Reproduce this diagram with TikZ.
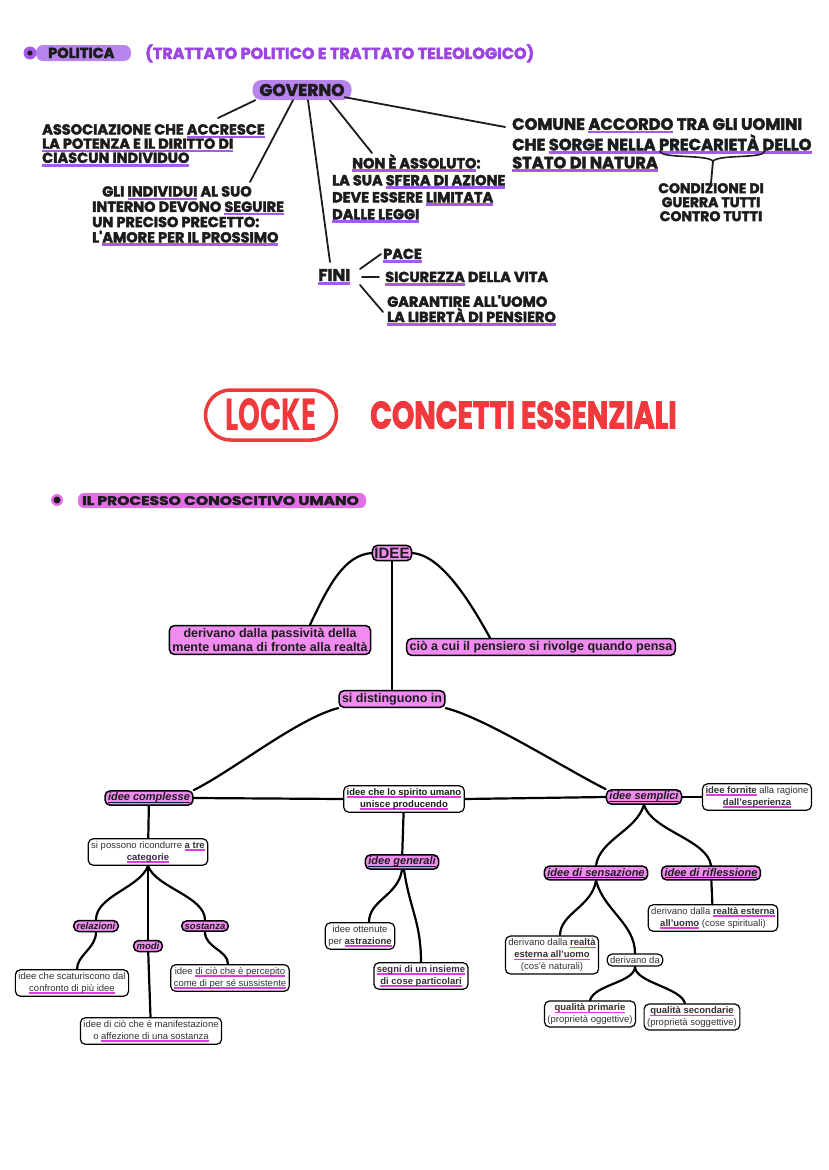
\documentclass[tikz,border=0pt]{standalone}
\usepackage{fontspec}
\setmainfont{Liberation Sans}
\newfontfamily\handfont{Poppins}[BoldFeatures={FakeBold=2.6}]
\newfontfamily\lockefont{Poppins}
\usepackage{graphicx}
\usetikzlibrary{backgrounds}

\definecolor{inkpurple}{HTML}{9B46E1}
\definecolor{ulpurple}{HTML}{A45AEA}
\definecolor{hlpurple}{HTML}{B784EE}
\definecolor{lockered}{HTML}{F0393C}
\definecolor{hlpink}{HTML}{E46EE8}
\definecolor{boxpink}{HTML}{F08CF0}
\definecolor{ulpink}{HTML}{DC3CDC}
\definecolor{ink}{HTML}{1C1C1C}

% highlighter underlines
\newcommand\ulp[1]{\leavevmode\setbox0=\hbox{#1}\rlap{\color{ulpurple}\rule[-3.6pt]{\wd0}{2.6pt}}\box0\relax}
\newcommand\ulk[1]{\leavevmode\setbox0=\hbox{#1}\rlap{\color{ulpink}\rule[-2.6pt]{\wd0}{1.5pt}}\box0\relax}
\newcommand\ulb[1]{\leavevmode\setbox0=\hbox{#1}\rlap{\rule[-1.8pt]{\wd0}{0.7pt}}\box0\relax}

\begin{document}
\begin{tikzpicture}[x=1pt, y=-1pt,
  hand/.style={font=\handfont\bfseries\fontsize{14.5}{14.5}\selectfont, text=ink, inner sep=0pt, align=left},
  handline/.style={line width=1.8pt, ink, line cap=round},
  link/.style={line width=2.2pt, black, line cap=round},
  pinkbox/.style={draw=black, line width=1.5pt, fill=boxpink, rounded corners=5pt, inner xsep=3pt, inner ysep=2.5pt, align=center, text=ink, font=\bfseries\fontsize{12.5}{14.5}\selectfont},
  catbox/.style={pinkbox, font=\bfseries\itshape\fontsize{11}{12}\selectfont, inner ysep=2pt},
  smallcat/.style={catbox, font=\bfseries\itshape\fontsize{9.5}{11}\selectfont},
  whitebox/.style={draw=black, line width=1.2pt, fill=white, rounded corners=5pt, inner xsep=3pt, inner ysep=2.5pt, align=center, text=black!80, font=\fontsize{9.5}{12}\selectfont}
]
\useasboundingbox (0,0) rectangle (828,1170);

% politica
\fill[hlpurple, rounded corners=7pt] (36,45) rectangle (131,61);
\fill[ulpurple] (30,53) circle (6.5pt);
\fill[ink] (30,53) circle (2.6pt);
\node[hand, anchor=base west] (politica) at (48,58) {POLITICA};
\node[hand, anchor=base west, text=inkpurple, font=\handfont\bfseries\fontsize{16}{16}\selectfont] (trattato) at (145,59) {(TRATTATO POLITICO E TRATTATO TELEOLOGICO)};

\node[hand, fill=hlpurple, rounded corners=9pt, minimum width=99pt, minimum height=20pt, font=\handfont\bfseries\fontsize{17}{17}\selectfont] (gov) at (302,90) {GOVERNO};

\node[hand, anchor=north west, font=\handfont\bfseries\fontsize{14.5}{14.2}\selectfont] (assoc) at (42,124) {ASSOCIAZIONE CHE \ulp{ACCRESCE}\\\ulp{LA POTENZA E IL DIRITTO DI}\\\ulp{CIASCUN INDIVIDUO}};
\node[hand, anchor=north west, font=\handfont\bfseries\fontsize{14.5}{15.3}\selectfont] (gli) at (92,186) {\hspace*{10pt}GLI \ulp{INDIVIDUI} AL SUO\\INTERNO DEVONO \ulp{SEGUIRE}\\UN PRECISO PRECETTO:\\L'\ulp{AMORE PER IL PROSSIMO}};
\node[hand, anchor=north west, font=\handfont\bfseries\fontsize{14.5}{17}\selectfont] (non) at (332,154) {\hspace*{20pt}\ulp{NON È ASSOLUTO}:\\LA SUA \ulp{SFERA DI AZIONE}\\DEVE ESSERE \ulp{LIMITATA}\\\ulp{DALLE LEGGI}};
\node[hand, anchor=north west, font=\handfont\bfseries\fontsize{16.3}{18}\selectfont] (comune) at (512,118) {COMUNE \ulp{ACCORDO} TRA GLI UOMINI\\CHE \ulp{SORGE NELLA PRECARIETÀ DELLO}\\\ulp{STATO DI NATURA}};
\node[hand, anchor=north, align=center, font=\handfont\bfseries\fontsize{14}{14}\selectfont] (cond) at (711,183) {CONDIZIONE DI\\GUERRA TUTTI\\CONTRO TUTTI};

\node[hand, anchor=base west, font=\handfont\bfseries\fontsize{17}{17}\selectfont] (fini) at (318,281) {\ulp{FINI}};
\node[hand, anchor=base west] (pace) at (383,259) {\ulp{PACE}};
\node[hand, anchor=base west] (sic) at (385,282) {\ulp{SICUREZZA} DELLA VITA};
\node[hand, anchor=north west, font=\handfont\bfseries\fontsize{14.5}{14}\selectfont] (garant) at (387,295) {GARANTIRE ALL'UOMO\\\ulp{LA LIBERTÀ DI PENSIERO}};

\draw[handline] ([xshift=3pt]gov.south west) -- ([xshift=176pt,yshift=6pt]assoc.north west);
\draw[handline] ([xshift=-9pt]gov.south) -- ([xshift=158pt,yshift=4pt]gli.north west);
\draw[handline] ([xshift=6pt]gov.south) -- ([xshift=12pt,yshift=19pt]fini.base west);
\draw[handline] ([xshift=-22pt]gov.south east) -- ([xshift=40pt,yshift=1pt]non.north west);
\draw[handline] ([xshift=-7pt,yshift=3pt]gov.south east) -- ([xshift=-7pt,yshift=-9pt]comune.north west);

\coordinate (bracetip) at (713,161);
\draw[handline, line width=1.6pt] (660,151) .. controls (661,159) and (705,154) .. (bracetip) .. controls (721,154) and (764,159) .. (765,151);
\draw[handline] (bracetip) -- (cond.north);

\draw[handline] ([xshift=42pt,yshift=12pt]fini.base west) -- ([xshift=-2pt,yshift=5pt]pace.base west);
\draw[handline] ([xshift=44pt,yshift=4pt]fini.base west) -- ([xshift=-6pt,yshift=5pt]sic.base west);
\draw[handline] ([xshift=42pt,yshift=-4pt]fini.base west) -- ([xshift=-4pt,yshift=-17pt]garant.north west);

% titolo
\node[draw=lockered, line width=3.5pt, rounded corners=25pt, minimum width=131pt, minimum height=50pt, text=lockered, inner sep=0pt] (locke) at (271,415) {\scalebox{0.62}[1]{\lockefont\bfseries\fontsize{45}{45}\selectfont LOCKE}};
\node[text=lockered, anchor=west, inner sep=0pt] (concetti) at (370,415) {\scalebox{0.75}[1]{\handfont\bfseries\fontsize{38}{38}\selectfont CONCETTI ESSENZIALI}};

\fill[hlpink, rounded corners=6pt] (78,493) rectangle (366,508);
\fill[hlpink] (57,500) circle (6pt);
\fill[ink] (57,500) circle (3.5pt);
\node[hand, anchor=base west] (processo) at (82,505) {\scalebox{1.24}[1]{\fontsize{12.5}{12.5}\selectfont IL PROCESSO CONOSCITIVO UMANO}};

% mappa delle idee
\node[pinkbox, font=\bfseries\fontsize{15}{16}\selectfont, inner xsep=2pt] (idee) at (392,553) {IDEE};
\node[pinkbox] (deriv) at (270,640) {derivano dalla passività della\\mente umana di fronte alla realtà};
\node[pinkbox] (cio) at (541,647) {ciò a cui il pensiero si rivolge quando pensa};
\node[pinkbox] (sidist) at (392,699) {si distinguono in};

\node[catbox] (compl) at (149,798) {\ulb{idee complesse}};
\node[whitebox, font=\bfseries\fontsize{9.5}{12}\selectfont, text=ink] (spirito) at (404,799) {\ulk{idee che lo spirito umano}\\\ulk{unisce producendo}};
\node[catbox] (sempl) at (644,797) {\ulb{idee semplici}};
\node[whitebox] (fornite) at (757,797) {\textbf{\ulk{idee fornite}} alla ragione\\\textbf{\ulk{dall'esperienza}}};

\node[whitebox] (categ) at (148,852) {si possono ricondurre \textbf{\ulk{a tre}}\\\textbf{\ulk{categorie}}};
\node[smallcat] (relaz) at (96,926) {relazioni};
\node[smallcat] (modi) at (148,946) {modi};
\node[smallcat] (sost) at (205,926) {sostanza};
\node[whitebox] (scatur) at (72,983) {idee che scaturiscono dal\\\ulk{confronto di più idee}};
\node[whitebox] (percep) at (230,978) {idee \ulk{di ciò che è percepito}\\\ulk{come di per sé sussistente}};
\node[whitebox] (manif) at (151,1031) {idee di ciò che è manifestazione\\o \ulk{affezione di una sostanza}};

\node[catbox] (general) at (402,862) {\ulb{idee generali}};
\node[whitebox] (astraz) at (360,936) {idee ottenute\\per \textbf{\ulk{astrazione}}};
\node[whitebox] (segni) at (421,976) {\textbf{\ulk{segni di un insieme}}\\\textbf{\ulk{di cose particolari}}};

\node[catbox] (sensaz) at (596,873) {\ulb{idee di sensazione}};
\node[catbox] (rifless) at (711,873) {\ulb{idee di riflessione}};
\node[whitebox] (rifdesc) at (713,918) {derivano dalla \textbf{\ulk{realtà esterna}}\\\textbf{\ulk{all'uomo}} (cose spirituali)};
\node[whitebox] (sensdesc) at (552,955) {derivano dalla \textbf{\ulk{realtà}}\\\textbf{\ulk{esterna all'uomo}}\\(cos'è naturali)};
\node[whitebox] (derivda) at (635,960) {derivano da};
\node[whitebox] (primarie) at (590,1014) {\textbf{\ulk{qualità primarie}}\\(proprietà oggettive)};
\node[whitebox] (secondarie) at (692,1017) {\textbf{\ulk{qualità secondarie}}\\(proprietà soggettive)};

\begin{scope}[on background layer]
  \draw[link] (idee.west) .. controls +(-28,2) and +(18,-38) .. ([xshift=40pt]deriv.north);
  \draw[link] (idee.east) .. controls +(28,2) and +(-22,-40) .. ([xshift=-51pt]cio.north);
  \draw[link] (idee) -- (sidist);
  \draw[link] (sidist.south west) .. controls +(-40,10) and +(40,-20) .. (compl.north east);
  \draw[link] (sidist.south east) .. controls +(40,10) and +(-40,-20) .. (sempl.north west);
  \draw[link] (compl.east) -- (spirito.west);
  \draw[link] (spirito.east) -- (sempl.west);
  \draw[link] (sempl.east) -- (fornite.west);

  \draw[link] (compl) -- (categ);
  \draw[link] (categ.south) .. controls +(-8,22) and +(0,-24) .. (relaz.north);
  \draw[link] (categ.south) -- (modi.north);
  \draw[link] (categ.south) .. controls +(8,22) and +(0,-24) .. (sost.north);
  \draw[link] (relaz.south) .. controls +(0,16) and +(0,-14) .. ([xshift=5pt]scatur.north);
  \draw[link] (sost.south) .. controls +(0,16) and +(0,-14) .. ([xshift=-2pt]percep.north);
  \draw[link] (modi) -- (manif);

  \draw[link] (spirito) -- (general);
  \draw[link] (general.south) .. controls +(-4,26) and +(0,-22) .. ([xshift=9pt]astraz.north);
  \draw[link] ([xshift=2pt]general.south) .. controls +(6,40) and +(0,-40) .. (segni.north);

  \draw[link] (sempl.south) .. controls +(-8,26) and +(4,-26) .. (sensaz.north);
  \draw[link] (sempl.south) .. controls +(8,26) and +(-4,-26) .. (rifless.north);
  \draw[link] (rifless) -- (rifdesc);
  \draw[link] (sensaz.south) .. controls +(-4,26) and +(0,-22) .. ([xshift=8pt]sensdesc.north);
  \draw[link] (sensaz.south) .. controls +(8,30) and +(0,-30) .. (derivda.north);
  \draw[link] (derivda.south) .. controls +(0,16) and +(4,-16) .. (primarie.north);
  \draw[link] (derivda.south) .. controls +(0,16) and +(-4,-16) .. ([xshift=-7pt]secondarie.north);
\end{scope}
\end{tikzpicture}
\end{document}
